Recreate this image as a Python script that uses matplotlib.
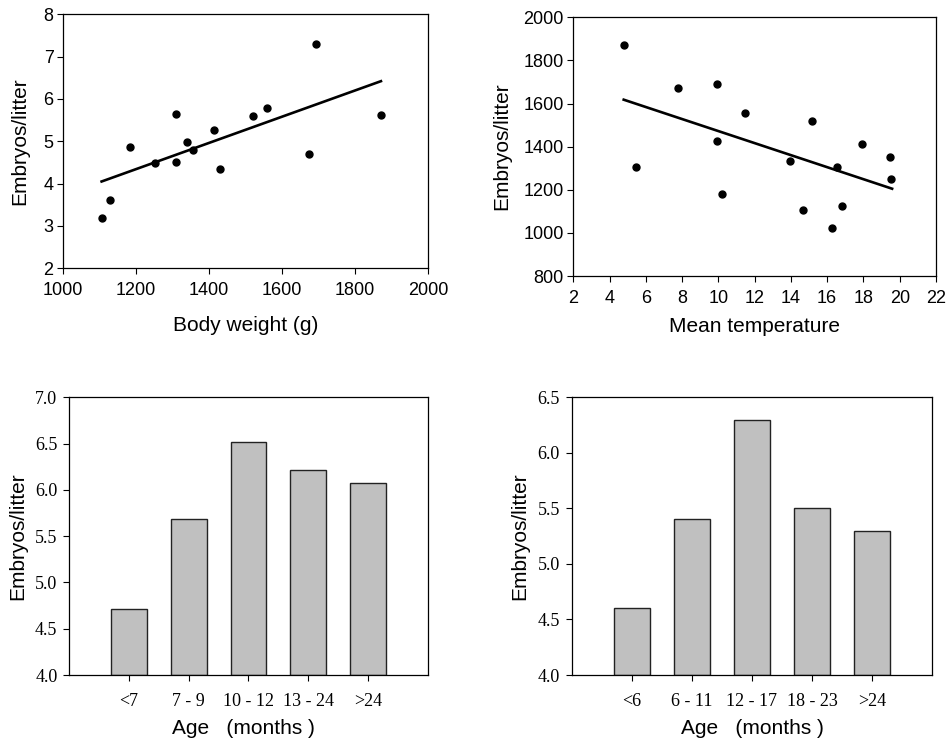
import matplotlib.pyplot as plt
import numpy as np

# top-left: litter size vs body weight
weight = [1107, 1128, 1182, 1251, 1310, 1310, 1338, 1355, 1414, 1430, 1520, 1559, 1673, 1692, 1871]
embryos_w = [3.18, 3.61, 4.86, 4.48, 5.64, 4.51, 4.99, 4.79, 5.27, 4.35, 5.59, 5.78, 4.69, 7.30, 5.62]
fit_w_x = [1105, 1871]
fit_w_y = [4.05, 6.42]

# top-right: litter vs mean temperature
temp = [4.78, 5.46, 7.77, 9.93, 9.94, 10.18, 11.47, 13.95, 14.65, 15.18, 16.25, 16.56, 16.82, 17.92, 19.45, 19.52]
embryos_t = [1872, 1307, 1672, 1692, 1428, 1179, 1558, 1335, 1105, 1519, 1024, 1307, 1125, 1412, 1354, 1249]
fit_t_x = [4.78, 19.58]
fit_t_y = [1618, 1205]

# bottom bars
age_a = ['<7', '7 - 9', '10 - 12', '13 - 24', '>24']
litter_a = [4.71, 5.68, 6.52, 6.21, 6.07]
age_b = ['<6', '6 - 11', '12 - 17', '18 - 23', '>24']
litter_b = [4.60, 5.40, 6.30, 5.50, 5.30]

sans = 'Liberation Sans'
serif = 'Liberation Serif'
label_size = 15

fig = plt.figure(figsize=(9.49, 7.44), dpi=100)
ax1 = fig.add_axes([0.0667, 0.6394, 0.3843, 0.3414])
ax2 = fig.add_axes([0.6041, 0.6290, 0.3822, 0.3477])
ax3 = fig.add_axes([0.0730, 0.0927, 0.3777, 0.3733])
ax4 = fig.add_axes([0.6024, 0.0927, 0.3800, 0.3733])

for ax in (ax1, ax2, ax3, ax4):
    for s in ax.spines.values():
        s.set_linewidth(0.9)
    ax.tick_params(direction='out', length=4, width=0.8)

# scatter panels
ax1.plot(weight, embryos_w, 'o', color='black', markersize=5)
ax1.plot(fit_w_x, fit_w_y, color='black', linewidth=1.9)
ax1.set_xlim(1000, 2000)
ax1.set_ylim(2, 8)
ax1.set_xticks(np.arange(1000, 2001, 200))
ax1.set_yticks(np.arange(2, 9, 1))

ax2.plot(temp, embryos_t, 'o', color='black', markersize=5)
ax2.plot(fit_t_x, fit_t_y, color='black', linewidth=1.9)
ax2.set_xlim(2, 22)
ax2.set_ylim(800, 2000)
ax2.set_xticks(np.arange(2, 23, 2))
ax2.set_yticks(np.arange(800, 2001, 200))

for ax in (ax1, ax2):
    ax.tick_params(axis='x', pad=6)
    ax.tick_params(axis='y', pad=3)
    for lab in ax.get_xticklabels() + ax.get_yticklabels():
        lab.set_fontfamily(sans)
        lab.set_fontsize(13)

ax1.set_xlabel('Body weight (g)', fontfamily=sans, fontsize=label_size)
ax1.set_ylabel('Embryos/litter', fontfamily=sans, fontsize=label_size)
ax1.xaxis.set_label_coords(0.5, -0.186)
ax1.yaxis.set_label_coords(-0.094, 0.5)

ax2.set_xlabel('Mean temperature', fontfamily=sans, fontsize=label_size)
ax2.set_ylabel('Embryos/litter', fontfamily=sans, fontsize=label_size)
ax2.xaxis.set_label_coords(0.5, -0.160)
ax2.yaxis.set_label_coords(-0.172, 0.5)

# bar panels
for ax, cats, vals, top in ((ax3, age_a, litter_a, 7.0), (ax4, age_b, litter_b, 6.5)):
    pos = np.arange(len(cats))
    ax.bar(pos, [v - 4.0 for v in vals], bottom=4.0, width=0.6, color='#c0c0c0',
           edgecolor='#222222', linewidth=1.0)
    ax.set_xlim(-1, len(cats))
    ax.set_ylim(4.0, top)
    ax.set_xticks(pos)
    ax.set_xticklabels(cats)
    ax.set_yticks(np.arange(4.0, top + 0.01, 0.5))
    ax.set_yticklabels([f'{v:.1f}' for v in np.arange(4.0, top + 0.01, 0.5)])
    ax.tick_params(axis='x', pad=9)
    ax.tick_params(axis='y', pad=4.5)
    for lab in ax.get_xticklabels() + ax.get_yticklabels():
        lab.set_fontfamily(serif)
        lab.set_fontsize(13)
    ax.set_xlabel('Age   (months )', fontfamily=sans, fontsize=label_size)
    ax.set_ylabel('Embryos/litter', fontfamily=sans, fontsize=label_size)
    ax.yaxis.set_label_coords(-0.117, 0.5)

ax3.xaxis.set_label_coords(0.487, -0.160)
ax4.xaxis.set_label_coords(0.5, -0.160)

fig.savefig('out.png', dpi=100, facecolor='white')
